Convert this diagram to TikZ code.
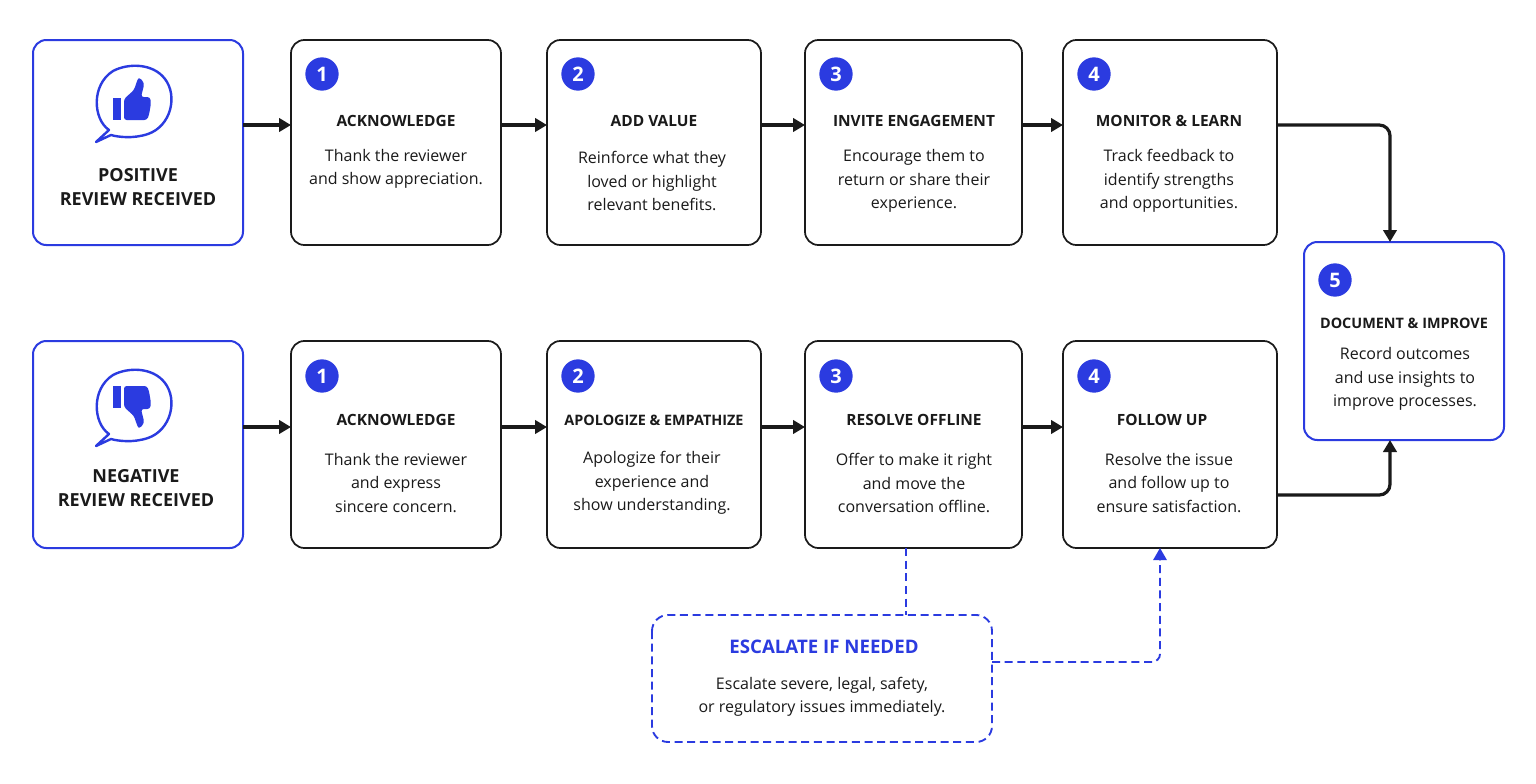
\documentclass[tikz,border=0pt]{standalone}
\usepackage{fontspec}
\setmainfont{Open Sans}
\usetikzlibrary{positioning, arrows.meta}
\definecolor{accent}{HTML}{2B3BE0}
\definecolor{ink}{HTML}{1A1A1A}

\tikzset{
  stepbox/.style={draw=ink, line width=1.3pt, rounded corners=10pt, fill=white},
  start/.style={draw=accent, line width=1.5pt, rounded corners=10pt, fill=white},
  num/.style={circle, fill=accent, text=white, font=\bfseries\fontsize{15}{16}\selectfont, minimum size=25pt, inner sep=0pt},
  head/.style={font=\bfseries\fontsize{11.6}{14}\selectfont, text=ink},
  body/.style={font=\fontsize{12}{17.5}\selectfont, text=ink, align=center},
  flow/.style={-{Triangle[length=9pt,width=10pt]}, line width=2.4pt, ink, rounded corners=8pt},
  escline/.style={accent, line width=1.4pt, dash pattern=on 6pt off 3.5pt},
  dflow/.style={-{Triangle[length=9pt,width=10pt]}, escline, rounded corners=6pt}
}

\begin{document}
\begin{tikzpicture}[x=0.75pt, y=-0.75pt]
  \useasboundingbox[fill=white] (0,0) rectangle (1536,783);

  % START BOXES
  \draw[start] (33,40) rectangle (243,245);
  \draw[start] (33,341) rectangle (243,548);
  \node[head, align=center, font=\bfseries\fontsize{13.5}{18.5}\selectfont] (pos) at (138,187) {POSITIVE\\REVIEW RECEIVED};
  \node[head, align=center, font=\bfseries\fontsize{13.5}{18.5}\selectfont] (neg) at (136,488) {NEGATIVE\\REVIEW RECEIVED};

  % ICONS
  \foreach \cy/\flip in {101/1, 405/-1} {
    \begin{scope}[shift={(133,\cy)}]
      \draw[accent, line width=1.8pt, line join=round]
        (-24,29) .. controls (-40,18) and (-42,-16) .. (-20,-30)
        .. controls (-5,-38) and (20,-38) .. (32,-22)
        .. controls (45,-5) and (38,25) .. (15,33)
        .. controls (0,38) and (-15,36) .. (-22,34)
        -- (-37,41) -- cycle;
      \begin{scope}[yscale=\flip]
        \fill[accent] (-20,-3) rectangle (-12,19);
        \fill[accent, rounded corners=2pt] (-9,-2) -- (1,-11) -- (4,-20) .. controls (6,-24) and (12,-20) .. (10,-12)
          -- (8,-4) -- (17,-4) -- (18,2) -- (17,8) -- (16,14) -- (14,19) -- (-9,19) -- cycle;
      \end{scope}
    \end{scope}
  }

  % STEP BOXES
  \foreach \xa/\xb [count=\i] in {291/501, 547/761, 805/1022, 1063/1277} {
    \draw[stepbox] (\xa,40) rectangle (\xb,245);
    \draw[stepbox] (\xa,341) rectangle (\xb,548);
    \node[num] at (\xa+31,74) {\i};
    \node[num] at (\xa+31,376) {\i};
  }
  \coordinate (p1) at (291,125); \coordinate (p1r) at (501,125);
  \coordinate (p2) at (547,125); \coordinate (p2r) at (761,125);
  \coordinate (p3) at (805,125); \coordinate (p3r) at (1022,125);
  \coordinate (p4) at (1063,125); \coordinate (p4r) at (1277,125);
  \coordinate (n1) at (291,427); \coordinate (n1r) at (501,427);
  \coordinate (n2) at (547,427); \coordinate (n2r) at (761,427);
  \coordinate (n3) at (805,427); \coordinate (n3r) at (1022,427);
  \coordinate (n4) at (1063,427); \coordinate (n4r) at (1277,495);
  \coordinate (pos0) at (243,125); \coordinate (neg0) at (243,427);

  % POSITIVE TEXTS
  \node[head] at (396,121) {ACKNOWLEDGE};
  \node[body] at (396,169) {Thank the reviewer\\and show appreciation.};
  \node[head] at (654,121) {ADD VALUE};
  \node[body] at (652,181) {Reinforce what they\\loved or highlight\\relevant benefits.};
  \node[head] at (914,121) {INVITE ENGAGEMENT};
  \node[body] at (914,181) {Encourage them to\\return or share their\\experience.};
  \node[head] at (1169,121) {MONITOR \& LEARN};
  \node[body] at (1169,181) {Track feedback to\\identify strengths\\and opportunities.};

  % NEGATIVE TEXTS
  \node[head] at (396,420) {ACKNOWLEDGE};
  \node[body] at (396,483) {Thank the reviewer\\and express\\sincere concern.};
  \node[head, font=\bfseries\fontsize{10.8}{14}\selectfont] at (654,420) {APOLOGIZE \& EMPATHIZE};
  \node[body] at (652,483) {Apologize for their\\experience and\\show understanding.};
  \node[head] at (914,420) {RESOLVE OFFLINE};
  \node[body] at (914,483) {Offer to make it right\\and move the\\conversation offline.};
  \node[head] at (1162,420) {FOLLOW UP};
  \node[body] at (1169,483) {Resolve the issue\\and follow up to\\ensure satisfaction.};

  % DOCUMENT & IMPROVE
  \draw[start] (1304,242) rectangle (1504,440);
  \node[num] at (1335,280) {5};
  \node[head, font=\bfseries\fontsize{10.8}{14}\selectfont] at (1404,323) {DOCUMENT \& IMPROVE};
  \node[body] (doc) at (1405,379) {Record outcomes\\and use insights to\\improve processes.};
  \coordinate (doct) at (1390,242); \coordinate (docb) at (1390,440);

  % ESCALATE
  \draw[escline, rounded corners=12pt] (652,615) rectangle (992,742);
  \node[head, text=accent, font=\bfseries\fontsize{14}{16}\selectfont] at (824,647) {ESCALATE IF NEEDED};
  \node[body] at (822,697) {Escalate severe, legal, safety,\\or regulatory issues immediately.};
  \coordinate (esct) at (906,615); \coordinate (escr) at (992,662);
  \coordinate (resb) at (906,548); \coordinate (fupb) at (1160,548);

  % ARROWS
  \foreach \a/\b in {pos0/p1, p1r/p2, p2r/p3, p3r/p4, neg0/n1, n1r/n2, n2r/n3, n3r/n4}
    \draw[flow] (\a) -- (\b);
  \draw[flow] (p4r) -| (doct);
  \draw[flow] (n4r) -| (docb);
  \draw[escline] (resb) -- (esct);
  \draw[dflow] (escr) -| (fupb);
\end{tikzpicture}
\end{document}
